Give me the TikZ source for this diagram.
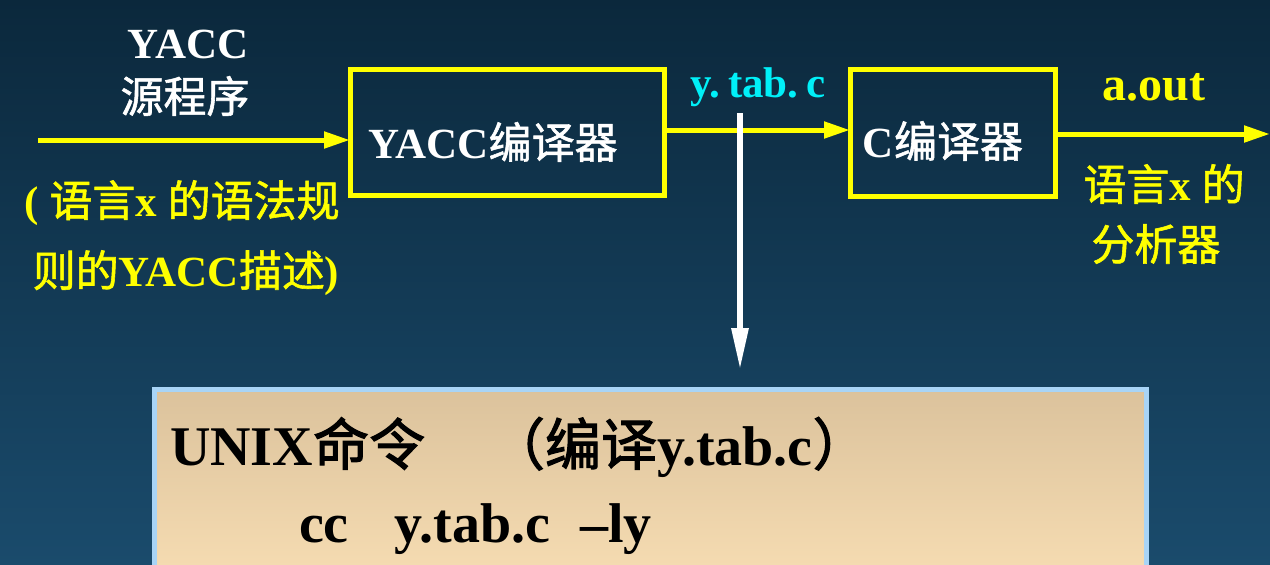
\documentclass[tikz,border=0pt]{standalone}
\usepackage{fontspec}
\setmainfont{Liberation Serif}
\newfontfamily\cjk[FakeBold=1.3]{Noto Sans CJK SC}
\newfontfamily\cjkbig[FakeBold=2]{Noto Sans CJK SC}
\usetikzlibrary{arrows.meta}
\newcommand\zh[1]{{\cjk\mdseries #1}}
\newcommand\zhb[1]{{\cjkbig\mdseries #1}}
\definecolor{bgtop}{HTML}{0B283C}
\definecolor{bgbot}{HTML}{1A4B6C}
\definecolor{yel}{HTML}{FFFF00}
\definecolor{cyn}{HTML}{00F0F8}
\definecolor{lblue}{HTML}{A8D4F6}
\definecolor{beigetop}{HTML}{DBC29C}
\definecolor{beigebot}{HTML}{FBE1B6}
\tikzset{
  txt/.style={inner sep=0pt, outer sep=0pt, font=\fontsize{21.5pt}{26pt}\selectfont\bfseries},
  bigtxt/.style={inner sep=0pt, outer sep=0pt, font=\fontsize{28pt}{34pt}\selectfont\bfseries, text=black},
  ybox/.style={draw=yel, line width=2.5pt, inner sep=0pt, outer sep=0pt},
  yarrow/.style={draw=yel, line width=2.5pt, -{Triangle[length=13pt,width=8pt]}},
  warrow/.style={draw=white, line width=3pt, -{Triangle[length=21pt,width=8pt]}},
  unixbox/.style={draw=lblue, line width=2.5pt, top color=beigetop, bottom color=beigebot, inner sep=0pt, outer sep=0pt},
}
\begin{document}
\begin{tikzpicture}[x=0.5pt,y=-0.5pt]
\useasboundingbox (0,0) rectangle (1270,564);
\clip (0,0) rectangle (1270,564);
\fill[top color=bgtop, bottom color=bgbot] (0,0) rectangle (1270,564);

% boxes
\node[ybox, minimum width=157pt, minimum height=63pt] (yacc) at (507,132) {};
\node[ybox, minimum width=102.5pt, minimum height=63.5pt] (ccomp) at (952.5,132.5) {};
\node[txt, text=white] (yacctxt) at (493,142) {YACC\zh{编译器}};
\node[txt, text=white] (cctxt) at (943,141) {C\zh{编译器}};

% left input
\node[txt, text=white] (src1) at (188,44) {YACC};
\node[txt, text=white] (src2) at (185,96) {\zh{源程序}};
\node[txt, text=yel] (desc1) at (182,203) {( \zh{语言}x \zh{的语法规}};
\node[txt, text=yel] (desc2) at (186,273) {\zh{则的}YACC\zh{描述})};
\coordinate (in) at (38,140);
\draw[yarrow] (in) -- (in -| yacc.west);

% middle
\coordinate (mid) at (0,130);
\draw[yarrow] (yacc.east |- mid) -- (ccomp.west |- mid);
\node[txt, text=cyn] (ytab) at (758,87) {y.\hspace{4pt}tab.\hspace{4pt}c};

% output
\coordinate (outy) at (0,134);
\coordinate (outend) at (1270,134);
\draw[yarrow] (ccomp.east |- outy) -- (outend);
\node[txt, text=yel, font=\fontsize{24pt}{28pt}\selectfont\bfseries] (aout) at (1154,87) {a.out};
\node[txt, text=yel] (res1) at (1164,184) {\zh{语言}x \zh{的}};
\node[txt, text=yel] (res2) at (1156,244) {\zh{分析器}};

% bottom box
\node[unixbox, minimum width=496pt, minimum height=110pt, anchor=north west] (unix) at (154,389) {};
\node[bigtxt, anchor=base west] (cmd1) at (170,465) {UNIX\zhb{命令}\hspace{32pt}\zhb{（编译}y.tab.c\zhb{）}};
\node[bigtxt, anchor=base west] (cmd2) at (299,542) {cc\hspace{23pt}y.tab.c\hspace{15pt}–ly};

% white arrow
\coordinate (wtop) at (740,113);
\coordinate (wend) at (740,370);
\draw[warrow] (wtop) -- (wend);
\end{tikzpicture}
\end{document}
